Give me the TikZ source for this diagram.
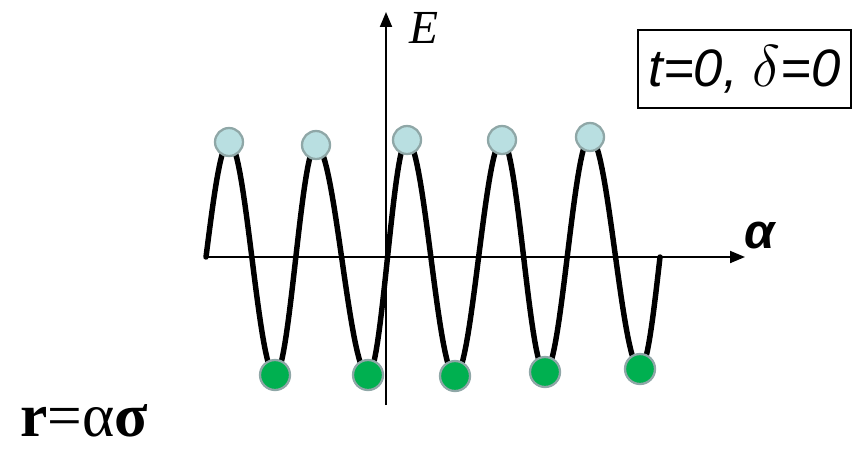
\documentclass[tikz,border=0pt]{standalone}
\usepackage{fontspec}
\setmainfont{Liberation Serif}
\setsansfont{Liberation Sans}
\usetikzlibrary{arrows.meta}
\definecolor{Cresta}{HTML}{B9DFE1}
\definecolor{Valle}{HTML}{00B050}
\definecolor{Borde}{HTML}{8FA7A7}

\begin{document}
\begin{tikzpicture}[x=0.02cm,y=-0.02cm,>={Triangle[length=0.3cm,width=0.24cm]},
 cresta/.style={circle,draw=Borde,fill=Cresta,line width=1.3pt,minimum size=0.56cm,inner sep=0pt},
 valle/.style={cresta,fill=Valle,minimum size=0.6cm},
 eje/.style={->,line width=1.1pt},
 onda/.style={line width=3.1pt,line cap=round}]
\useasboundingbox (0,0) rectangle (854,453);
\coordinate (o) at (205,257);\coordinate (ax) at (745,257);
\coordinate (eb) at (386,405);\coordinate (et) at (386,12);
\draw[eje] (o)--(ax);\draw[eje] (eb)--(et);
% la onda
\draw[onda] plot[domain=0:90,samples=20] ({206+23*\x/90},{257-115*sin(\x)});
\foreach \xa/\ya/\xb/\yb in {229/142/275/375,275/375/316/145,316/145/368/375,368/375/407/140,407/140/455/376,455/376/502/140,502/140/545/372,545/372/590/137,590/137/640/369}
 \draw[onda] plot[domain=0:180,samples=30] ({\xa+(\xb-\xa)*\x/180},{(\ya+\yb)/2+(\ya-\yb)/2*cos(\x)});
\draw[onda] plot[domain=0:90,samples=20] ({640+20*\x/90},{257+112*cos(\x)});
% maximos y minimos
\foreach \n/\px/\py in {1/229/142,2/316/145,3/407/140,4/502/140,5/590/137}
 \node[cresta] (p\n) at (\px,\py) {};
\foreach \n/\px/\py in {1/275/375,2/368/375,3/455/376,4/545/372,5/640/369}
 \node[valle] (v\n) at (\px,\py) {};
\node[font=\fontsize{27}{30}\selectfont\itshape] (energia) at (424,28) {E};
\node[font=\fontsize{28}{30}\selectfont\sffamily\bfseries\itshape] (alfa) at (760,236) {α};
\node[draw,line width=1pt,minimum width=4.26cm,minimum height=1.56cm,font=\fontsize{30}{34}\selectfont] (cond) at (744.5,69)
 {{\sffamily\itshape t=0, }\scalebox{1.35}{$\delta$}{\sffamily\itshape =0}};
\node[anchor=base west,inner sep=0pt,font=\fontsize{35}{40}\selectfont] (rel) at (20,436) {\textbf{r}=α\textbf{σ}};
\end{tikzpicture}
\end{document}
